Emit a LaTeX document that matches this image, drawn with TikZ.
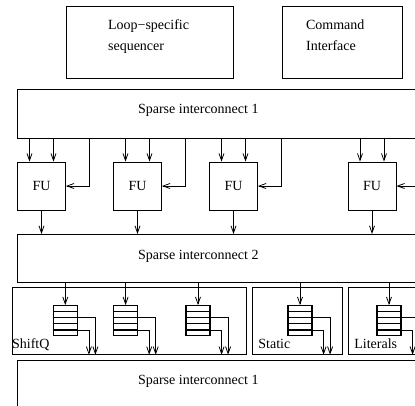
\documentclass[tikz,border=0pt]{standalone}
\usepackage{fontspec}
\setmainfont{Liberation Serif}
\usetikzlibrary{arrows.meta,calc}
\begin{document}
\begin{tikzpicture}[x=1pt,y=-1pt,line width=0.8pt,
  box/.style={draw,rectangle,inner sep=0pt,anchor=north west},
  txt/.style={font=\fontsize{14}{17}\selectfont,inner sep=0pt},
  fu/.style={draw,rectangle,minimum width=48pt,minimum height=48pt,inner sep=0pt,
    font=\fontsize{14}{17}\selectfont},
  queue/.style={draw,rectangle,line width=1.2pt,minimum width=24pt,minimum height=30pt,inner sep=0pt},
  arr/.style={-{Straight Barb[length=7pt,width=5pt]}}]
  \useasboundingbox (0,0) rectangle (415,405);
  \fill[white] (0,0) rectangle (415,405);
  \clip (0,0) rectangle (415,405);

  % control boxes
  \node[box,minimum width=167.3pt,minimum height=72pt] (seq) at (65.7,5.7) {};
  \node[txt,anchor=base west] (seqa) at (107.7,29.3) {Loop−specific};
  \node[txt,anchor=base west] (seqb) at (107.7,50) {sequencer};
  \node[box,minimum width=120pt,minimum height=72pt] (cmd) at (282,5.7) {};
  \node[txt,anchor=base west] (cmda) at (305.7,29.3) {Command};
  \node[txt,anchor=base west] (cmdb) at (305.7,50) {Interface};

  % interconnects
  \node[box,minimum width=420pt,minimum height=49pt] (si1) at (17.3,89) {};
  \node[txt,anchor=base] (si1l) at (198.3,113.5) {Sparse interconnect 1};
  \node[box,minimum width=420pt,minimum height=48pt] (si2) at (17.3,234) {};
  \node[txt,anchor=base] (si2l) at (198.3,259.7) {Sparse interconnect 2};
  \node[box,minimum width=420pt,minimum height=60pt] (si3) at (17.3,360) {};
  \node[txt,anchor=base] (si3l) at (198.3,384.7) {Sparse interconnect 1};

  % functional units
  \node[fu] (fu1) at (41.5,186) {FU};
  \node[fu] (fu2) at (137.5,186) {FU};
  \node[fu] (fu3) at (233.5,186) {FU};
  \node[fu] (fu4) at (372,186) {FU};

  \foreach \f in {fu1,fu2,fu3,fu4} {
    \path ([xshift=-12pt]\f.north) coordinate (\f a)
          ([xshift=12pt]\f.north) coordinate (\f b);
    \draw[arr] (\f a |- si1.south) -- (\f a);
    \draw[arr] (\f b |- si1.south) -- (\f b);
    \draw[arr] (\f.south) -- (\f.south |- si2.north);
  }
  \foreach \f in {fu1,fu2,fu3} {
    \path (\f.east) ++(23.5,0) coordinate (\f s);
    \draw[arr] (\f s |- si1.south) |- (\f.east);
  }
  \path (fu4.east) ++(30,0) coordinate (fu4s);
  \draw[arr] (fu4s) -- (fu4.east);

  % register groups
  \node[box,minimum width=234pt,minimum height=67pt] (gsh) at (11.7,287) {};
  \node[txt,anchor=base west] (gshl) at (11.7,348.3) {ShiftQ};
  \node[box,minimum width=90pt,minimum height=67pt] (gst) at (251.7,287) {};
  \node[txt,anchor=base west] (gstl) at (258,348.3) {Static};
  \node[box,minimum width=90pt,minimum height=67pt] (gli) at (347.7,287) {};
  \node[txt,anchor=base west] (glil) at (354,348.3) {Literals};

  % queues
  \node[queue] (q1) at (65.3,320.7) {};
  \node[queue] (q2) at (125.6,320.7) {};
  \node[queue] (q3) at (198,320.7) {};
  \node[queue] (q4) at (300,320.7) {};
  \node[queue] (q5) at (389,320.7) {};

  \foreach \q/\g in {q1/gsh,q2/gsh,q3/gsh,q4/gst,q5/gli} {
    \foreach \k in {1,...,4}
      \draw[line width=1.2pt] ($(\q.north west)!\k/5!(\q.south west)$) -- ($(\q.north east)!\k/5!(\q.south east)$);
    \draw[arr] (\q.north |- si2.south) -- (\q.north);
    \path ($(\q.north east)!0.4!(\q.south east)$) coordinate (\q u)
          ($(\q.north east)!0.8!(\q.south east)$) coordinate (\q l);
    \path (\q u) ++(17.5,0) coordinate (\q ux);
    \path (\q l) ++(11,0) coordinate (\q lx);
    \draw[arr] (\q u) -- (\q ux) -- (\q ux |- \g.south);
    \draw[arr] (\q l) -- (\q lx) -- (\q lx |- \g.south);
  }
\end{tikzpicture}
\end{document}
